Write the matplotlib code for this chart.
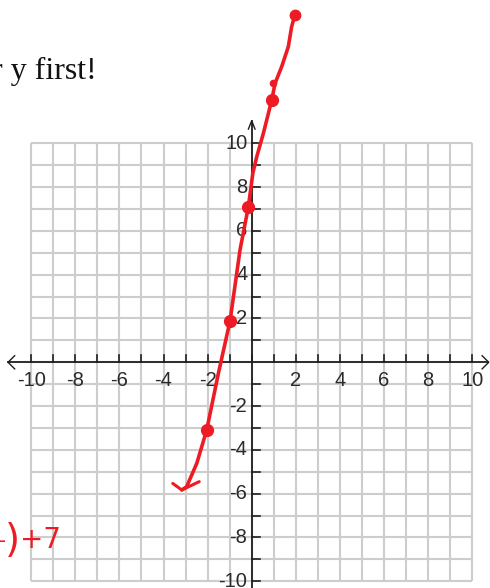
import matplotlib
matplotlib.use("Agg")
import matplotlib.pyplot as plt
import numpy as np

# ---- data ----
grid_values = list(range(-10, 11))
x_tick_labels = [-10, -8, -6, -4, -2, 2, 4, 6, 8, 10]
y_tick_labels = [10, 8, 6, 4, 2, -2, -4, -6, -8, -10]

# hand-drawn red curve
curve_x = [1.96, 1.81, 1.66, 1.36, 1.06, 0.91, 0.53, 0.23, 0.05, -0.15, -0.53, -0.98, -1.51, -2.04, -2.49, -2.95, -3.17]
curve_y = [15.87, 15.32, 14.41, 13.50, 12.74, 11.98, 10.46, 9.39, 8.63, 7.11, 5.13, 1.90, -0.50, -3.09, -4.61, -5.68, -5.83]
hook_x = [-3.58, -3.17, -2.38]
hook_y = [-5.53, -5.83, -5.45]
dots_x = [-2.04, -0.98, -0.15, 0.91]
dots_y = [-3.09, 1.90, 7.11, 11.98]
top_dot = (1.96, 15.87)
small_dot = (0.95, 12.74)

RED = "#ed1c24"
AX = "#1e1e1e"

fig = plt.figure(figsize=(4.9, 5.88), dpi=100)
ax = fig.add_axes([0, 0, 1, 1])
ax.set_xlim(-11.415, 10.807)
ax.set_ylim(-10.306, 16.543)
ax.axis("off")

# grid
for v in grid_values:
    ax.plot([v, v], [-10, 10], color="#cdcdcd", lw=1.5, zorder=1, solid_capstyle="butt")
    ax.plot([-10, 10], [v, v], color="#cdcdcd", lw=1.5, zorder=1, solid_capstyle="butt")

# axes
ax.plot([-11.05, 10.72], [0, 0], color=AX, lw=1.3, zorder=2)
ax.plot([0, 0], [-10.4, 11.0], color=AX, lw=1.3, zorder=2)
# arrow heads (open chevrons)
ax.plot([-10.75, -11.05, -10.75], [0.3, 0, -0.3], color=AX, lw=1.0, zorder=2)
ax.plot([10.45, 10.75, 10.45], [0.3, 0, -0.3], color=AX, lw=1.0, zorder=2)
ax.plot([-0.15, 0, 0.15], [10.65, 11.03, 10.65], color=AX, lw=1.0, zorder=2)

# ticks
for v in grid_values:
    ax.plot([v, v], [0, 0.33], color=AX, lw=1.2, zorder=2)
    if v != 0:
        ax.plot([0, 0.36], [v, v], color=AX, lw=1.2, zorder=2)

# tick labels
for v in x_tick_labels:
    ax.text(v, -0.85, f"{v}".replace("\u2212", "-"), ha="center", va="center",
            fontsize=14.5, family="Liberation Sans", color="#2a2a2a", zorder=3)
for v in y_tick_labels:
    ax.text(-0.2, v, f"{v}", ha="right", va="center",
            fontsize=14.5, family="Liberation Sans", color="#2a2a2a", zorder=3)

# red hand-drawn line
ax.plot(curve_x, curve_y, color=RED, lw=2.6, zorder=4, solid_capstyle="round", solid_joinstyle="round")
ax.plot(hook_x, hook_y, color=RED, lw=2.2, zorder=4, solid_capstyle="round")
ax.plot(dots_x, dots_y, "o", color=RED, ms=8.5, zorder=5)
ax.plot([top_dot[0]], [top_dot[1]], "o", color=RED, ms=7.5, zorder=5)
ax.plot([small_dot[0]], [small_dot[1]], "o", color=RED, ms=4.5, zorder=5)

# texts
fig.text(97 / 490, 1 - 79 / 588, "r y first!", ha="right", va="baseline",
         fontsize=23, family="Liberation Serif", color="#111111")
fig.text(-2 / 490, 1 - 541 / 588, "-", ha="left", va="center", fontsize=16, color=RED)
fig.text(5 / 490, 1 - 541 / 588, ")", ha="left", va="center", fontsize=28, color=RED)
fig.text(20 / 490, 1 - 540 / 588, "+7", ha="left", va="center", fontsize=20, color=RED)

fig.savefig("out.png", dpi=100)
